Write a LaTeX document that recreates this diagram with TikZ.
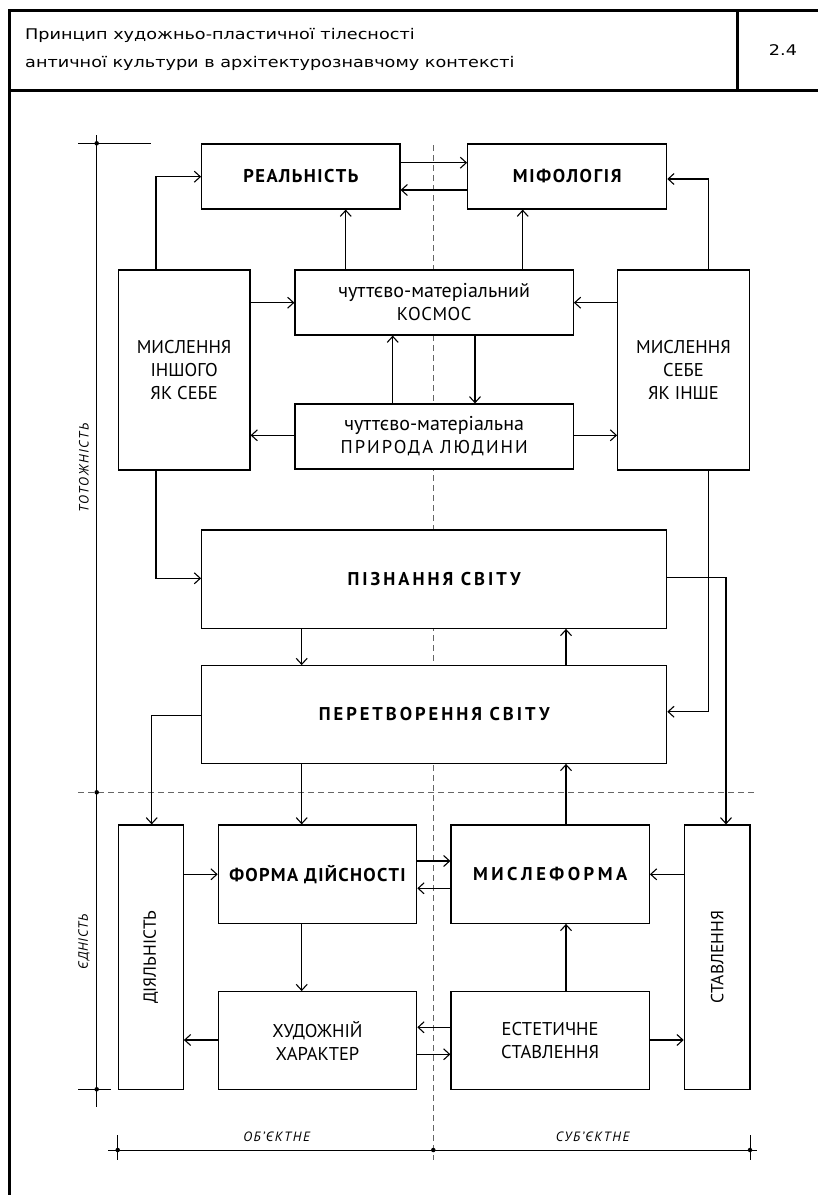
\documentclass[tikz,border=0pt]{standalone}
\usepackage{fontspec}
\setmainfont{PT Sans}
\newfontfamily\headfont[FakeStretch=1.2]{DejaVu Sans}
\usetikzlibrary{arrows.meta,calc}
\newcommand\boldsp[2]{{\bfseries\addfontfeature{LetterSpace=#1}#2}}
\newcommand\regsp[2]{{\addfontfeature{LetterSpace=#1}#2}}
\newcommand\lowln[1]{{\fontsize{20}{23.5}\selectfont #1}}
\begin{document}
\begin{tikzpicture}[x=1pt,y=-1pt,
  box/.style={draw,line width=1.2pt,fill=white,inner sep=0pt,align=center,
    font=\fontsize{18.5}{23}\selectfont},
  lbl/.style={inner sep=0pt,align=center,font=\fontsize{18.5}{23}\selectfont},
  arr/.style={line width=1.1pt,-{Straight Barb[length=6pt,width=11pt,line width=1.1pt]}},
  thinln/.style={line width=0.7pt},
  dsh/.style={line width=0.7pt,draw=black!60,dash pattern=on 6pt off 4pt},
  dotn/.style={circle,fill,inner sep=0pt,minimum size=4.5pt},
  ax/.style={inner sep=0pt,font=\fontsize{13.5}{15}\selectfont\itshape\addfontfeature{LetterSpace=12}},
  head/.style={inner sep=0pt,anchor=base west,font=\headfont\fontsize{14.7}{16}\selectfont},
]
\useasboundingbox (0,0) rectangle (818,1195);
\clip (0,0) rectangle (818,1195);
% frame
\draw[line width=3pt] (9,1210) -- (9,10) -- (830,10);
\draw[line width=2.5pt] (9,90.7) -- (830,90.7);
\draw[line width=2.5pt] (737.7,10) -- (737.7,90.7);
\node[head] (h1) at (25,39) {Принцип художньо-пластичної тілесності};
\node[head] (h2) at (25,67) {античної культури в архітектурознавчому контексті};
\node[head,anchor=base] (num) at (783,55) {2.4};
% guide lines
\draw[dsh] (433.3,145) -- (433.3,1160);
\draw[dsh] (78,792.3) -- (756.7,792.3);
\draw[thinln] (96.7,135) -- (96.7,1106.7);
\draw[thinln] (78,143.3) -- (150.7,143.3);
\draw[thinln] (78,1089.3) -- (110.7,1089.3);
\draw[thinln] (108.3,1150) -- (756.7,1150);
\draw[thinln] (117.7,1135) -- (117.7,1160);
\draw[thinln] (750,1135) -- (750,1160);
\node[dotn] (d1) at (96.7,143.3) {};
\node[dotn] (d2) at (96.7,792.3) {};
\node[dotn] (d3) at (96.7,1089.3) {};
\node[dotn] (d4) at (117.7,1150) {};
\node[dotn] (d5) at (433.3,1150) {};
\node[dotn] (d6) at (750,1150) {};
\node[ax,rotate=90] (tot) at (84,468) {ТОТОЖНІСТЬ};
\node[ax,rotate=90,font=\fontsize{13.5}{15}\selectfont\itshape\addfontfeature{LetterSpace=6}] (edn) at (84,942) {ЄДНІСТЬ};
\node[ax] (obj) at (276.7,1137) {ОБ’ЄКТНЕ};
\node[ax] (subj) at (592.7,1137) {СУБ’ЄКТНЕ};
% boxes
\node[box,minimum width=198.3,minimum height=65] (real) at (300.85,176.5) {\boldsp{8}{РЕАЛЬНІСТЬ}};
\node[box,minimum width=199,minimum height=65] (mif) at (567.2,176.5) {\boldsp{9}{МІФОЛОГІЯ}};
\node[box,minimum width=131.7,minimum height=200] (lbox) at (184.15,370) {МИСЛЕННЯ\\ІНШОГО\\ЯК СЕБЕ};
\node[box,minimum width=131.6,minimum height=200] (rbox) at (683.5,370) {МИСЛЕННЯ\\СЕБЕ\\ЯК ІНШЕ};
\node[box,minimum width=278.3,minimum height=65] (kos) at (434.15,302.5) {\lowln{чуттєво-матеріальний}\\\regsp{3}{КОСМОС}};
\node[box,minimum width=278.3,minimum height=65] (pry) at (434.15,436.5) {\lowln{чуттєво-матеріальна}\\\regsp{11}{ПРИРОДА ЛЮДИНИ}};
\node[box,minimum width=465,minimum height=98.3] (pizn) at (434.2,579.15) {\boldsp{16}{ПІЗНАННЯ СВІТУ}};
\node[box,minimum width=465,minimum height=97.6] (per) at (434.2,714.5) {\boldsp{16}{ПЕРЕТВОРЕННЯ СВІТУ}};
\node[box,minimum width=65,minimum height=264.3] (diyal) at (150.8,957.15) {};
\node[lbl,rotate=90,font=\fontsize{17.5}{22}\selectfont] (diyalt) at (diyal.center) {ДІЯЛЬНІСТЬ};
\node[box,minimum width=198.4,minimum height=98.3] (forma) at (317.5,874.15) {\boldsp{7}{ФОРМА ДІЙСНОСТІ}};
\node[box,minimum width=198.4,minimum height=97.6] (khud) at (317.5,1040.5) {ХУДОЖНІЙ\\ХАРАКТЕР};
\node[box,minimum width=198.3,minimum height=98.3] (mysl) at (550.15,874.15) {\boldsp{19}{МИСЛЕФОРМА}};
\node[box,minimum width=198.3,minimum height=97.6] (estet) at (550.15,1040.5) {ЕСТЕТИЧНЕ\\СТАВЛЕННЯ};
\node[box,minimum width=65.7,minimum height=264.3] (stavl) at (717.15,957.15) {};
\node[lbl,rotate=90,font=\fontsize{17.5}{22}\selectfont] (stavlt) at (stavl.center) {СТАВЛЕННЯ};
% connector positions
\coordinate (xA) at (156,0);
\coordinate (xB) at (708.7,0);
\coordinate (xC) at (345.7,0);
\coordinate (xD) at (522.7,0);
\coordinate (xE) at (392.7,0);
\coordinate (xF) at (475,0);
\coordinate (xG) at (301.7,0);
\coordinate (xH) at (566,0);
\coordinate (xI) at (726,0);
\coordinate (xJ) at (151.7,0);
\coordinate (yA) at (0,162.7);
\coordinate (yB) at (0,190);
\coordinate (yC) at (0,176.7);
\coordinate (yD) at (0,179);
\coordinate (yE) at (0,302.7);
\coordinate (yF) at (0,435.3);
\coordinate (yG) at (0,578.3);
\coordinate (yH) at (0,711.7);
\coordinate (yI) at (0,577.3);
\coordinate (yJ) at (0,715.7);
\coordinate (yK) at (0,874.3);
\coordinate (yL) at (0,861);
\coordinate (yM) at (0,888.3);
\coordinate (yN) at (0,1040);
\coordinate (yO) at (0,1027.3);
\coordinate (yP) at (0,1054.3);
% connectors
\draw[arr] (real.east |- yA) -- (mif.west |- yA);
\draw[arr] (mif.west |- yB) -- (real.east |- yB);
\draw[arr] (lbox.north -| xA) |- (real.west |- yC);
\draw[arr] (rbox.north -| xB) |- (mif.east |- yD);
\draw[arr] (kos.north -| xC) -- (real.south -| xC);
\draw[arr] (kos.north -| xD) -- (mif.south -| xD);
\draw[arr] (lbox.east |- yE) -- (kos.west |- yE);
\draw[arr] (rbox.west |- yE) -- (kos.east |- yE);
\draw[arr] (pry.north -| xE) -- (kos.south -| xE);
\draw[arr] (kos.south -| xF) -- (pry.north -| xF);
\draw[arr] (pry.west |- yF) -- (lbox.east |- yF);
\draw[arr] (pry.east |- yF) -- (rbox.west |- yF);
\draw[arr] (lbox.south -| xA) |- (pizn.west |- yG);
\draw[arr] (rbox.south -| xB) |- (per.east |- yH);
\draw[arr] (pizn.east |- yI) -| (stavl.north -| xI);
\draw[arr] (pizn.south -| xG) -- (per.north -| xG);
\draw[arr] (per.north -| xH) -- (pizn.south -| xH);
\draw[arr] (per.west |- yJ) -| (diyal.north -| xJ);
\draw[arr] (per.south -| xG) -- (forma.north -| xG);
\draw[arr] (mysl.north -| xH) -- (per.south -| xH);
\draw[arr] (diyal.east |- yK) -- (forma.west |- yK);
\draw[arr] (forma.east |- yL) -- (mysl.west |- yL);
\draw[arr] (mysl.west |- yM) -- (forma.east |- yM);
\draw[arr] (forma.south -| xG) -- (khud.north -| xG);
\draw[arr] (khud.west |- yN) -- (diyal.east |- yN);
\draw[arr] (estet.west |- yO) -- (khud.east |- yO);
\draw[arr] (khud.east |- yP) -- (estet.west |- yP);
\draw[arr] (estet.north -| xH) -- (mysl.south -| xH);
\draw[arr] (stavl.west |- yK) -- (mysl.east |- yK);
\draw[arr] (estet.east |- yN) -- (stavl.west |- yN);
\end{tikzpicture}
\end{document}
